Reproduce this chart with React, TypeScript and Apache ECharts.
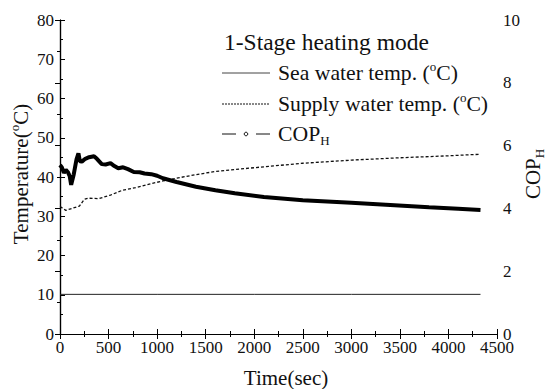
import React, { useEffect, useRef } from "react";
import * as echarts from "echarts";

const xTicks = [0, 500, 1000, 1500, 2000, 2500, 3000, 3500, 4000, 4500];

const seaTime = [0, 1000, 2000, 3000, 4330];
const seaTemp = [10.1, 10.1, 10.1, 10.1, 10.1];

const supplyTime = [0, 60, 110, 200, 250, 290, 400, 520, 640, 780, 920, 1060, 1200, 1400, 1600, 1800, 2100, 2500, 3000, 3500, 4000, 4330];
const supplyTemp = [32.5, 31.5, 31.9, 32.6, 34.3, 34.6, 34.5, 35.4, 36.6, 37.3, 38.2, 39.0, 39.7, 40.6, 41.4, 41.9, 42.6, 43.5, 44.3, 44.9, 45.4, 45.8];

const copTime = [0, 20, 40, 60, 80, 100, 115, 140, 170, 190, 205, 225, 260, 300, 350, 380, 430, 470, 520, 560, 600, 650, 700, 760, 820, 870, 940, 1000, 1060, 1200, 1400, 1600, 1800, 2100, 2500, 3000, 3400, 3800, 4100, 4330];
const copValue = [5.38, 5.3, 5.13, 5.23, 5.16, 5.03, 4.75, 5.06, 5.56, 5.75, 5.5, 5.49, 5.58, 5.63, 5.66, 5.58, 5.41, 5.4, 5.44, 5.35, 5.28, 5.31, 5.25, 5.16, 5.15, 5.11, 5.09, 5.04, 4.96, 4.84, 4.69, 4.58, 4.48, 4.36, 4.26, 4.18, 4.11, 4.04, 3.99, 3.95];

const titleText = "1-Stage heating mode";
const seaLabel = "Sea water temp. (";
const supplyLabel = "Supply water temp. (";
const copLabel = "COP";
const xName = "Time(sec)";
const yName = "Temperature(";

const FONT = "'Liberation Serif', 'Times New Roman', 'DejaVu Serif', serif";

const pairs = (xs: number[], ys: number[]) => xs.map((x, i) => [x, ys[i]]);

export default function App() {
  const ref = useRef<HTMLDivElement>(null);
  useEffect(() => {
    if (!ref.current) return;
    const chart = echarts.init(ref.current, null, { renderer: "svg" });
    const axisLine = { show: true, lineStyle: { color: "#000", width: 1.2 } };
    const tick = { show: true, inside: true, length: 5, lineStyle: { color: "#000", width: 1 } };
    const minor = { show: true, splitNumber: 2, length: 3, lineStyle: { color: "#000", width: 1 } };
    const labelStyle = { fontFamily: FONT, fontSize: 17, color: "#111" };
    const mkRich = (size: number) => ({
      a: { fontFamily: FONT, fontSize: size, fill: "#111", lineHeight: 26 },
      sup: { fontFamily: FONT, fontSize: 13, fill: "#111", lineHeight: 14, verticalAlign: "top" },
      sub: { fontFamily: FONT, fontSize: 13, fill: "#111", lineHeight: 14, verticalAlign: "bottom" },
    });
    const legRich = mkRich(21.7);
    const axRich = mkRich(21);
    const legendX = 222;
    const textX = 278;
    const rows = [73, 104, 134];
    chart.setOption({
      animation: false,
      grid: { left: 60, right: 52, top: 20, bottom: 55, containLabel: false, outerBoundsMode: "none" },
      xAxis: [
        {
          type: "value", min: 0, max: 4500, interval: 500, position: "bottom",
          axisLine, axisTick: tick, minorTick: minor, splitLine: { show: false },
          axisLabel: { ...labelStyle, margin: 5, formatter: (v: number) => (xTicks.includes(v) ? String(v) : "") },
        },
        {
          type: "value", min: 0, max: 4500, interval: 500, position: "top",
          axisLine, axisTick: tick, minorTick: minor, splitLine: { show: false }, axisLabel: { show: false },
        },
      ],
      yAxis: [
        {
          type: "value", min: 0, max: 80, interval: 10, position: "left",
          axisLine, axisTick: tick, minorTick: minor, splitLine: { show: false },
          axisLabel: { ...labelStyle, margin: 6 },
        },
        {
          type: "value", min: 0, max: 10, interval: 2, position: "right",
          axisLine, axisTick: tick, minorTick: minor, splitLine: { show: false },
          axisLabel: { ...labelStyle, margin: 6 },
        },
      ],
      series: [
        {
          name: "Sea water temp.", type: "line", xAxisIndex: 0, yAxisIndex: 0, data: pairs(seaTime, seaTemp),
          showSymbol: false, lineStyle: { color: "#222", width: 1 },
        },
        {
          name: "Supply water temp.", type: "line", xAxisIndex: 0, yAxisIndex: 0, data: pairs(supplyTime, supplyTemp),
          showSymbol: false, lineStyle: { color: "#111", width: 1.3, type: [3, 2] },
        },
        {
          name: "COPH", type: "line", xAxisIndex: 0, yAxisIndex: 1, data: pairs(copTime, copValue),
          showSymbol: false, lineStyle: { color: "#000", width: 4 },
        },
      ],
      graphic: [
        {
          type: "text", x: 21, y: 174, rotation: Math.PI / 2,
          style: { text: `{a|${yName}}{sup|o}{a|C)}`, rich: axRich, align: "center", verticalAlign: "middle" },
        },
        {
          type: "text", x: 533, y: 174, rotation: Math.PI / 2,
          style: { text: `{a|COP}{sub|H}`, rich: axRich, align: "center", verticalAlign: "middle" },
        },
        {
          type: "text", x: 286, y: 378,
          style: { text: xName, fontFamily: FONT, fontSize: 21, fill: "#111", align: "center", verticalAlign: "middle" },
        },
        { type: "text", x: legendX + 2, y: 42, style: { text: titleText, fontFamily: FONT, fontSize: 23.5, fill: "#111", verticalAlign: "middle" } },
        { type: "line", shape: { x1: legendX, y1: rows[0], x2: legendX + 48, y2: rows[0] }, style: { stroke: "#444", lineWidth: 1 } },
        { type: "text", x: textX, y: rows[0], style: { text: `{a|${seaLabel}}{sup|o}{a|C)}`, rich: legRich, verticalAlign: "middle" } },
        { type: "line", shape: { x1: legendX, y1: rows[1], x2: legendX + 48, y2: rows[1] }, style: { stroke: "#111", lineWidth: 1, lineDash: [2, 1] } },
        { type: "text", x: textX, y: rows[1], style: { text: `{a|${supplyLabel}}{sup|o}{a|C)}`, rich: legRich, verticalAlign: "middle" } },
        { type: "line", shape: { x1: legendX, y1: rows[2], x2: legendX + 14, y2: rows[2] }, style: { stroke: "#111", lineWidth: 1 } },
        { type: "circle", shape: { cx: legendX + 24, cy: rows[2], r: 1.8 }, style: { fill: "#fff", stroke: "#111", lineWidth: 1 } },
        { type: "line", shape: { x1: legendX + 34, y1: rows[2], x2: legendX + 48, y2: rows[2] }, style: { stroke: "#111", lineWidth: 1 } },
        { type: "text", x: textX, y: rows[2], style: { text: `{a|${copLabel}}{sub|H}`, rich: legRich, verticalAlign: "middle" } },
      ],
    });
    return () => chart.dispose();
  }, []);
  return <div ref={ref} style={{ width: 549, height: 389, position: "fixed", left: 0, top: 0, background: "#fff" }} />;
}
